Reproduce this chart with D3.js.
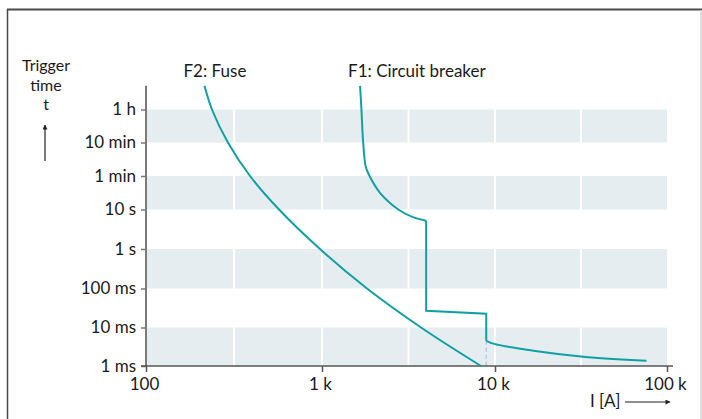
<!DOCTYPE html>
<html>
<head>
<meta charset="utf-8">
<script src="https://cdn.jsdelivr.net/npm/d3@7"></script>
<style>
  body { margin: 0; background: #fff; }
  svg { display: block; font-family: Lato, "Open Sans", sans-serif; }
</style>
</head>
<body>
<svg id="chart" width="702" height="419"></svg>
<script>
// Trigger-time axis (seconds) and its labels
const timeTicks  = [0.001, 0.01, 0.1, 1, 10, 60, 600, 3600];
const timeLabels = ["1 ms", "10 ms", "100 ms", "1 s", "10 s", "1 min", "10 min", "1 h"];
const timeTop = 13000;

// Current axis (A) and its labels
const currentTicks  = [100, 1000, 10000, 100000];
const currentLabels = ["100", "1 k", "10 k", "100 k"];
const gridCurrents  = [316, 1000, 3162, 10000, 31623];

// Shaded time bands [lower, upper] in seconds
const bandLow  = [600, 10, 0.1, 0.001];
const bandHigh = [3600, 60, 1, 0.01];

// F2: fuse characteristic
const fuseI = [215, 237, 292, 390, 570, 974, 1820, 3735, 8300];
const fuseT = [13000, 3600, 600, 60, 10, 1, 0.1, 0.01, 0.001];

// F1: circuit breaker, thermal (overload) part
const cbThermalI = [1660, 1690, 1730, 1790, 1880, 2170, 2760, 3300, 4000];
const cbThermalT = [13000, 3600, 600, 114, 61, 24, 10, 6.6, 5.2];
// F1: short-delay and instantaneous steps
const cbStepI = [4000, 4000, 8900, 8900];
const cbStepT = [5.2, 0.027, 0.0226, 0.0045];
// F1: tail of the instantaneous release
const cbTailI = [8900, 10000, 16700, 32600, 76000];
const cbTailT = [0.0045, 0.0037, 0.0025, 0.00175, 0.00137];

const svg = d3.select("#chart");
const teal = "#10a0a3";
const fontSize = 17;

const x = d3.scaleLog()
  .domain(currentTicks)
  .range([146, 322, 495, 667]);

const y = d3.scaleLog()
  .domain(timeTicks)
  .range([366, 327.5, 288.5, 249, 209.5, 176, 142.5, 109.5]);

const xLeft = x(100), xRight = x(100000);
const yBottom = y(0.001), yTopPx = y(timeTop);

// outer frame
svg.append("line").attr("x1", 7).attr("x2", 702).attr("y1", 9.5).attr("y2", 9.5)
  .attr("stroke", "#4a4a4a").attr("stroke-width", 2);
svg.append("line").attr("x1", 7.5).attr("x2", 7.5).attr("y1", 9).attr("y2", 419)
  .attr("stroke", "#4a4a4a").attr("stroke-width", 1.5);
svg.append("line").attr("x1", 701).attr("x2", 701).attr("y1", 10).attr("y2", 419)
  .attr("stroke", "#d6d6d6").attr("stroke-width", 1.5);

// shaded bands
svg.append("g").selectAll("rect")
  .data(d3.range(bandLow.length))
  .join("rect")
  .attr("x", xLeft)
  .attr("width", xRight - xLeft)
  .attr("y", i => y(bandHigh[i]))
  .attr("height", i => y(bandLow[i]) - y(bandHigh[i]))
  .attr("fill", "#e5edf1");

// white vertical grid lines
svg.append("g").selectAll("line")
  .data(gridCurrents)
  .join("line")
  .attr("x1", d => x(d)).attr("x2", d => x(d))
  .attr("y1", y(3600)).attr("y2", yBottom)
  .attr("stroke", "#fff").attr("stroke-width", 2);

// dashed drop line under the instantaneous step
svg.append("line")
  .attr("x1", x(8900)).attr("x2", x(8900))
  .attr("y1", y(0.0045)).attr("y2", yBottom)
  .attr("stroke", "#a9c8d8").attr("stroke-width", 1.2)
  .attr("stroke-dasharray", "4,3");

// axes
const yAxis = d3.axisLeft(y)
  .tickValues(timeTicks)
  .tickFormat((d, i) => timeLabels[i])
  .tickSize(5).tickSizeOuter(0).tickPadding(5);
const gy = svg.append("g").attr("transform", `translate(${xLeft},0)`).call(yAxis);
gy.select(".domain").attr("d", `M0,${yTopPx}V${yBottom}`)
  .attr("stroke", "#7a7a7a").attr("stroke-width", 2);
gy.selectAll(".tick line").attr("stroke", "#7a7a7a").attr("stroke-width", 1.5);
gy.selectAll(".tick text").attr("font-size", fontSize).attr("fill", "#1a1a1a")
  .attr("font-family", "Lato, 'Open Sans', sans-serif");

const xAxis = d3.axisBottom(x)
  .tickValues(currentTicks)
  .tickFormat((d, i) => currentLabels[i])
  .tickSize(6).tickSizeOuter(0).tickPadding(6);
const gx = svg.append("g").attr("transform", `translate(0,${yBottom})`).call(xAxis);
gx.select(".domain").attr("d", `M${xLeft - 5},0H${xRight + 6}`)
  .attr("stroke", "#555").attr("stroke-width", 1.5);
gx.selectAll(".tick line").attr("stroke", "#555").attr("stroke-width", 1.5);
gx.selectAll(".tick text").attr("font-size", fontSize).attr("fill", "#1a1a1a")
  .attr("font-family", "Lato, 'Open Sans', sans-serif")
  .attr("dx", "-0.12em");

// curves
const smooth = d3.line().x(d => x(d[0])).y(d => y(d[1])).curve(d3.curveCatmullRom.alpha(0.5));
const straight = d3.line().x(d => x(d[0])).y(d => y(d[1]));
const zip = (a, b) => a.map((v, i) => [v, b[i]]);

function drawCurve(gen, pts) {
  svg.append("path").datum(pts).attr("d", gen)
    .attr("fill", "none").attr("stroke", teal)
    .attr("stroke-width", 2).attr("stroke-linejoin", "miter");
}
drawCurve(smooth, zip(fuseI, fuseT));
drawCurve(smooth, zip(cbThermalI, cbThermalT));
drawCurve(straight, zip(cbStepI, cbStepT));
drawCurve(smooth, zip(cbTailI, cbTailT));

// labels
const text = (tx, ty, s, anchor = "start", size = fontSize) =>
  svg.append("text").attr("x", tx).attr("y", ty).attr("text-anchor", anchor)
    .attr("font-size", size).attr("fill", "#1a1a1a").text(s);

text(x(fuseI[0]) - 21, 77, "F2: Fuse");
text(x(cbThermalI[0]) - 12, 77, "F1: Circuit breaker");
text(46, 71, "Trigger", "middle", 16);
text(46, 90.5, "time", "middle", 16);
text(46, 110, "t", "middle", 16);
text(590, 407, "I [A]");

// arrows
const defs = svg.append("defs");
defs.append("marker").attr("id", "head")
  .attr("viewBox", "0 0 10 10").attr("refX", 9).attr("refY", 5)
  .attr("markerWidth", 9).attr("markerHeight", 5).attr("markerUnits", "userSpaceOnUse")
  .attr("orient", "auto")
  .append("path").attr("d", "M0,0L10,5L0,10Z").attr("fill", "#222");

svg.append("line").attr("x1", 45).attr("x2", 45).attr("y1", 161).attr("y2", 125)
  .attr("stroke", "#222").attr("stroke-width", 1.2).attr("marker-end", "url(#head)");
svg.append("line").attr("x1", 625).attr("x2", 670).attr("y1", 402).attr("y2", 402)
  .attr("stroke", "#222").attr("stroke-width", 1.2).attr("marker-end", "url(#head)");
</script>
</body>
</html>
